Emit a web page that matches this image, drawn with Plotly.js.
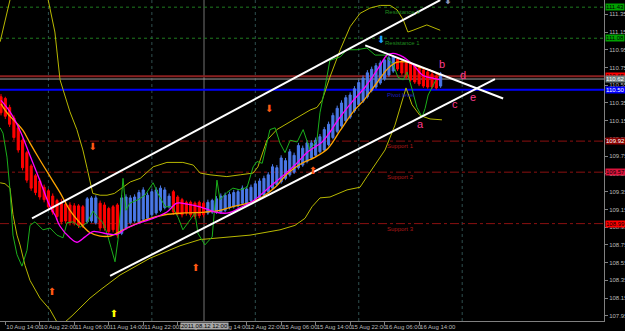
<!DOCTYPE html>
<html><head><meta charset="utf-8">
<script src="https://cdn.plot.ly/plotly-3.0.1.min.js"></script>
<style>html,body{margin:0;padding:0;background:#000;}#chart{width:625px;height:331px;}</style>
</head><body><div id="chart"></div>
<script>
// Heiken Ashi bars (H1), bar slot 0 = 10 Aug 13:00 ... slot 102 = 16 Aug 19:00
const haOpen  = [110.42,110.40,110.30,110.18,110.07,109.93,109.79,109.64,109.53,109.47,109.40,109.36,109.30,109.25,109.22,109.21,109.20,109.19,109.19,109.18,
 109.01,109.02,109.00,109.22,109.20,109.16,109.18,109.20,108.88,108.94,109.00,109.02,109.01,109.04,109.05,109.09,109.11,109.14,109.17,109.18,
 109.35,109.29,109.26,109.23,109.23,109.22,109.23,109.22,109.11,109.12,109.12,109.12,109.14,109.17,109.18,109.19,109.22,109.22,109.25,109.26,
 109.28,109.31,109.35,109.39,109.43,109.46,109.50,109.54,109.57,109.62,109.65,109.69,109.73,109.76,109.80,109.82,109.88,109.96,110.03,110.09,
 110.15,110.19,110.26,110.33,110.37,110.42,110.49,110.53,110.575,110.62,110.665,110.71,110.846,110.823,110.80,110.79,110.767,110.744,110.722,110.70,
 110.677,110.654,110.541];
const haClose = [110.24,110.20,110.11,109.96,109.82,109.62,109.48,109.39,109.34,109.29,109.26,109.18,109.12,109.07,109.01,109.02,109.00,109.00,108.97,108.97,
 109.27,109.28,109.28,108.94,108.94,108.90,108.92,108.86,109.28,109.29,109.28,109.29,109.34,109.37,109.31,109.35,109.37,109.39,109.37,109.30,
 109.12,109.11,109.09,109.11,109.09,109.07,109.08,109.09,109.23,109.25,109.27,109.30,109.31,109.32,109.34,109.35,109.39,109.38,109.40,109.44,
 109.47,109.50,109.54,109.63,109.62,109.73,109.70,109.80,109.76,109.87,109.84,109.90,109.90,109.93,109.97,110.05,110.11,110.21,110.29,110.35,
 110.41,110.44,110.51,110.58,110.63,110.69,110.73,110.77,110.80,110.835,110.857,110.868,110.733,110.688,110.643,110.61,110.587,110.564,110.541,110.53,
 110.53,110.519,110.677];
const haHigh  = [110.45,110.42,110.33,110.21,110.09,109.95,109.81,109.66,109.55,109.50,109.43,109.38,109.33,109.27,109.27,109.25,109.23,109.22,109.21,109.20,
 109.29,109.30,109.31,109.25,109.23,109.18,109.20,109.22,109.31,109.32,109.31,109.32,109.37,109.40,109.34,109.38,109.40,109.42,109.40,109.33,
 109.37,109.31,109.28,109.25,109.25,109.24,109.25,109.24,109.26,109.27,109.30,109.33,109.34,109.35,109.37,109.38,109.42,109.41,109.43,109.47,
 109.50,109.53,109.57,109.66,109.65,109.76,109.73,109.83,109.79,109.90,109.87,109.93,109.93,109.96,110.00,110.08,110.14,110.24,110.32,110.38,
 110.44,110.47,110.54,110.61,110.66,110.72,110.76,110.80,110.83,110.86,110.88,110.89,110.87,110.85,110.82,110.81,110.79,110.77,110.745,110.72,
 110.70,110.675,110.70];
const haLow   = [110.21,110.17,110.08,109.93,109.79,109.59,109.45,109.36,109.31,109.26,109.23,109.15,109.09,109.03,108.98,108.99,108.97,108.97,108.94,108.94,
 108.99,109.00,108.98,108.91,108.91,108.87,108.89,108.83,108.86,108.92,108.98,109.00,108.99,109.02,109.03,109.07,109.09,109.12,109.15,109.16,
 109.09,109.08,109.06,109.08,109.06,109.04,109.05,109.06,109.09,109.10,109.10,109.10,109.12,109.15,109.16,109.17,109.20,109.20,109.23,109.24,
 109.26,109.29,109.33,109.37,109.41,109.44,109.48,109.52,109.55,109.60,109.63,109.67,109.71,109.74,109.78,109.80,109.86,109.94,110.01,110.07,
 110.13,110.17,110.24,110.31,110.35,110.40,110.47,110.51,110.555,110.60,110.645,110.69,110.71,110.66,110.62,110.59,110.565,110.54,110.52,110.51,
 110.51,110.50,110.52];

// fast MA (magenta) read at bar positions
const maFastX = [0,2.1,4.4,6.7,9,11.4,12.5,13.7,16,17.6,19.5,21.3,23,25.3,27,29.2,32.3,35.3,38.5,40.8,43.2,46.2,49.7,52.7,55.9,58.9,62,65.2,68.2,71.2,74.5,76.3,78.2,81.4,84.5,87.5,89.6,91,93.3,95.6,97.9,100.2,101.9];
const maFastY = [110.38,110.25,110.04,109.76,109.48,109.18,109.09,108.96,108.83,108.78,108.84,108.90,108.89,108.87,108.87,108.94,109.00,109.05,109.12,109.22,109.21,109.18,109.12,109.11,109.18,109.26,109.39,109.52,109.65,109.80,109.91,110.02,110.16,110.36,110.53,110.74,110.89,110.91,110.87,110.78,110.66,110.63,110.61];
// slow MA (orange)
const maSlowX = [0,1.4,3.7,5.1,6.7,9,11.4,13.7,16,18.3,20.6,23,25.3,28.8,33.4,38,42.7,47.3,50.8,53.6,57.3,60.6,63.6,66.6,69.8,72.9,75.9,78.7,81.7,84.5,86.8,89.8,91.9,94.2,97.2,99.5,101.9];
const maSlowY = [110.34,110.24,110.12,110.04,109.90,109.71,109.52,109.34,109.14,109.00,108.89,108.85,108.85,108.93,109.03,109.09,109.11,109.12,109.14,109.18,109.22,109.29,109.40,109.56,109.67,109.74,109.84,110.04,110.25,110.40,110.55,110.74,110.81,110.81,110.75,110.72,110.66];
// green line
const grnX = [-0.2,0.46,1.39,2.09,2.78,3.71,4.87,6.03,6.73,7.89,9.74,11.37,12.99,14.39,15.31,16.71,18.33,19.95,21.35,22.27,23.67,24.59,25.52,26.45,27.15,27.84,28.31,
 29,29.9,31.8,33.4,35.3,36.4,38.1,39.7,41.1,42.2,43.4,45,45.7,47.3,49,50.1,50.8,52.4,53.8,55.5,57.1,58.5,59.4,60.6,62.4,63.6,64.7,65.9,67.1,68.7,70.1,71.7,73.3,74,75.2,76.3,78.7,80.3,82.6,84.9,86.8,89.1,91,92.1,93.3,94.2,95.4,96.5,97.7,98.4,99.1,100,100.9];
const grnY = [110.07,110.01,109.74,109.37,108.86,108.64,108.51,108.69,108.97,109.01,108.92,108.94,108.86,108.83,109.00,109.01,108.95,109.00,109.13,109.07,109.00,108.88,108.72,108.56,108.81,109.26,109.50,
 109.14,109.22,109.26,109.31,109.45,109.33,109.18,109.18,109.06,108.92,109.00,109.11,108.88,108.75,108.84,109.48,109.26,109.34,109.39,109.37,109.40,109.63,109.69,109.67,110.05,110.07,109.90,109.79,109.93,109.91,110.05,109.82,109.93,110.24,110.53,110.83,110.87,110.95,110.95,110.97,110.89,110.89,110.78,110.64,110.61,110.70,110.50,110.30,110.19,110.29,110.44,110.53,110.61];
// upper envelope (yellow)
const upX = [-0.2,1,2,3,10,11,12.5,13.7,14.4,16,17.6,19,20,21.3,23,24.6,26.3,28.3,30,32.3,35.3,38.5,42.2,44.6,46.2,48.5,50.1,52.4,55.5,58.5,59.6,61.7,64,66.4,68.7,71.7,73.3,74.5,76.3,78.7,81,83.3,85.6,88,90.3,91.9,93.3,94.4,95.6,98.8,101.9];
const upY = [111.04,111.29,111.50,111.70,111.70,111.50,111.15,110.61,110.50,110.25,110.05,109.82,109.61,109.33,109.31,109.31,109.33,109.40,109.46,109.50,109.63,109.68,109.68,109.65,109.56,109.54,109.53,109.52,109.54,109.56,109.63,109.93,110.05,110.12,110.19,110.27,110.30,110.38,110.64,110.95,111.21,111.36,111.42,111.45,111.45,111.40,111.29,111.15,111.17,111.23,111.17];
// lower envelope (yellow)
const loX = [-0.2,0.93,2.09,2.78,3.71,4.41,5.57,6.73,9.05,11.37,12.99,14.85,16.47,18.33,20.65,22.97,27.61,34.57,41.53,46.17,50.81,57.77,64.73,68.2,70.53,72.16,74.01,76.33,80.28,83.29,84.92,86.77,89.1,91.4,93,93.97,95.36,97.2,99.54,102.3];
const loY = [109.45,109.44,109.39,109.09,108.86,108.75,108.52,108.35,108.15,108.02,107.88,107.88,107.95,108.04,108.15,108.24,108.41,108.60,108.74,108.81,108.83,108.86,108.92,108.97,109.05,109.18,109.28,109.29,109.37,109.40,109.52,109.65,109.82,110.10,110.38,110.52,110.33,110.21,110.17,110.16];

// trendlines: [x0,x1], [y0,y1]
const chanUpX = [7.2, 101.9],  chanUpY = [109.05, 111.51];
const chanLoX = [25.3, 114.6], chanLoY = [108.40, 110.62];
const downLnX = [84.5, 116.5], downLnY = [111.00, 110.40];

// pivot levels
const levelNames = ['Resistance 2','Resistance 1','Pivot level','Support 1','Support 2','Support 3'];
const levelVals  = [111.43, 111.08, 110.50, 109.92, 109.57, 108.99];
const bidLevel = 110.65, askLevel = 110.62;

// arrows
const arrX = [21.3, 62.2, 72.4, 45.2, 11.8, 26.2, 88.2, 103.7];
const arrY = [109.85, 110.28, 109.58, 108.48, 108.21, 107.97, 111.06, 111.49];
const arrDir = ['down','down','up','up','up','up','down','down'];
const arrCol = ['#ff5a14','#ff5a14','#ff5a14','#ff5a14','#ff5a14','#ffff00','#1ea0ff','#8a94b8'];

// wave letters
const waveTxt = ['a','b','c','d','e'];
const waveX = [97.2, 102.3, 105.3, 107.2, 109.5];
const waveY = [110.10, 110.77, 110.33, 110.65, 110.40];

// axes
const xTickSlots = [1,9,17,25,33,41,49,57,65,73,81,89,97];
const xTickText = ['10 Aug 14:00','10 Aug 22:00','11 Aug 06:00','11 Aug 14:00','11 Aug 22:00','12 Aug 06:00','12 Aug 14:00','12 Aug 22:00','15 Aug 06:00','15 Aug 14:00','15 Aug 22:00','16 Aug 06:00','16 Aug 14:00'];
const yTicks = [111.35,111.15,110.95,110.75,110.55,110.35,110.15,109.95,109.75,109.55,109.35,109.15,108.95,108.75,108.55,108.35,108.15,107.95];
const daySep = [11, 35, 59, 83, 107];
const cursorSlot = 47.1, cursorText = '2011.08.12 12:00';

const slots = haOpen.map((_, k) => k);
const FONT = 'Liberation Sans, Arial, sans-serif';

const traces = [];
traces.push({type:'candlestick', x:slots, open:haOpen, high:haHigh, low:haLow, close:haClose,
  increasing:{line:{color:'#4a78e6',width:1}, fillcolor:'#4a78e6'},
  decreasing:{line:{color:'#ff0000',width:1}, fillcolor:'#ff0000'},
  whiskerwidth:0, hoverinfo:'skip', showlegend:false});
traces.push({type:'scatter', mode:'lines', x:upX, y:upY, line:{color:'#b8b800',width:1}, hoverinfo:'skip'});
traces.push({type:'scatter', mode:'lines', x:loX, y:loY, line:{color:'#b8b800',width:1}, hoverinfo:'skip'});
traces.push({type:'scatter', mode:'lines', x:grnX, y:grnY, line:{color:'#1bb01b',width:1}, hoverinfo:'skip'});
traces.push({type:'scatter', mode:'lines', x:maSlowX, y:maSlowY, line:{color:'#ffa500',width:1.3,shape:'spline'}, hoverinfo:'skip'});
traces.push({type:'scatter', mode:'lines', x:maFastX, y:maFastY, line:{color:'#ff00ff',width:1.3,shape:'spline'}, hoverinfo:'skip'});
[[chanUpX,chanUpY],[chanLoX,chanLoY],[downLnX,downLnY]].forEach(([xs,ys]) =>
  traces.push({type:'scatter', mode:'lines', x:xs, y:ys, line:{color:'#ffffff',width:2}, hoverinfo:'skip'}));
traces.push({type:'scatter', mode:'text', x:arrX, y:arrY,
  text:arrDir.map(d => d === 'down' ? '⬇' : '⬆'),
  textfont:{color:arrCol, size:10, family:'DejaVu Sans'}, hoverinfo:'skip', cliponaxis:false});
traces.push({type:'scatter', mode:'text', x:waveX, y:waveY, text:waveTxt,
  textfont:{color:'#ff3c8c', size:11, family:FONT}, hoverinfo:'skip'});

const shapes = [];
daySep.forEach(s => shapes.push({type:'line', xref:'x', yref:'paper', x0:s, x1:s, y0:0, y1:1, layer:'below',
  line:{color:'#2f4f4f', width:1, dash:'dot'}}));
shapes.push({type:'line', xref:'x', yref:'paper', x0:cursorSlot, x1:cursorSlot, y0:0, y1:1, layer:'below', line:{color:'#3a3a3a', width:2}});
const lvlCol = ['#1f7a1f','#1f7a1f','#0000ff','#8b1010','#8b1010','#8b1010'];
levelVals.forEach((v, k) => {
  if (k === 2) shapes.push({type:'line', xref:'paper', yref:'y', x0:0, x1:1, y0:v, y1:v, layer:'below', line:{color:'#0000ff', width:2}});
  else shapes.push({type:'line', xref:'paper', yref:'y', x0:0, x1:1, y0:v, y1:v, layer:'below', line:{color:lvlCol[k], width:1, dash: k<2 ? 'dot' : 'dashdot'}});
});
shapes.push({type:'line', xref:'paper', yref:'y', x0:0, x1:1, y0:bidLevel, y1:bidLevel, layer:'below', line:{color:'#8b2020', width:2}});
shapes.push({type:'line', xref:'paper', yref:'y', x0:0, x1:1, y0:askLevel, y1:askLevel, layer:'below', line:{color:'#a0a0a0', width:1}});

const annotations = [];
levelNames.forEach((n, k) => annotations.push({x: k<2 ? 88.6 : 89.1, y: levelVals[k], xref:'x', yref:'y', text:n, showarrow:false,
  xanchor:'left', yanchor:'top', font:{size:6, color: k<2 ? '#1f8a1f' : (k===2 ? '#2020c0' : '#b01818'), family:FONT}}));
// price boxes on the right scale
const boxes = [
  [levelVals[0], '111.43', '#00a000', '#000000'],
  [levelVals[1], '111.08', '#00a000', '#000000'],
  [bidLevel, '110.65', '#ff0000', '#000000'],
  [askLevel, '110.62', '#708080', '#ffffff'],
  [levelVals[2], '110.50', '#0000ff', '#ffffff'],
  [levelVals[3], '109.92', '#8b0000', '#ffffff'],
  [levelVals[4], '109.57', '#dc143c', '#000000'],
  [levelVals[5], '108.99', '#ff0000', '#000000']
];
boxes.forEach(b => annotations.push({x:1, xref:'paper', y:b[0], yref:'y', text:b[1], showarrow:false, xanchor:'left', xshift:1,
  bgcolor:b[2], font:{size:6, color:b[3], family:FONT}, borderpad:0}));
annotations.push({x:cursorSlot, xref:'x', y:0, yref:'paper', yanchor:'top', yshift:-1, text:cursorText, showarrow:false,
  bgcolor:'#a8a8a8', font:{size:6, color:'#000000', family:FONT}, borderpad:0});

const layout = {
  width:625, height:331, paper_bgcolor:'#000000', plot_bgcolor:'#000000',
  margin:{l:0, r:21, t:0, b:10}, showlegend:false, dragmode:false,
  xaxis:{range:[-0.232, 139.9], tickvals:xTickSlots, ticktext:xTickText, tickangle:0, ticks:'outside', ticklen:3, tickcolor:'#808080',
    ticklabelposition:'outside right', tickfont:{size:6, color:'#b8b8b8', family:FONT},
    showline:true, linecolor:'#808080', showgrid:false, zeroline:false, rangeslider:{visible:false}, fixedrange:true},
  yaxis:{range:[107.892, 111.511], side:'right', tickvals:yTicks, ticktext:yTicks.map(v => v.toFixed(2)), ticks:'outside', ticklen:3,
    tickcolor:'#808080', tickfont:{size:6, color:'#b8b8b8', family:FONT}, showline:true, linecolor:'#808080',
    showgrid:false, zeroline:false, fixedrange:true},
  shapes:shapes, annotations:annotations
};
Plotly.newPlot('chart', traces, layout, {displayModeBar:false, staticPlot:true});
</script></body></html>
